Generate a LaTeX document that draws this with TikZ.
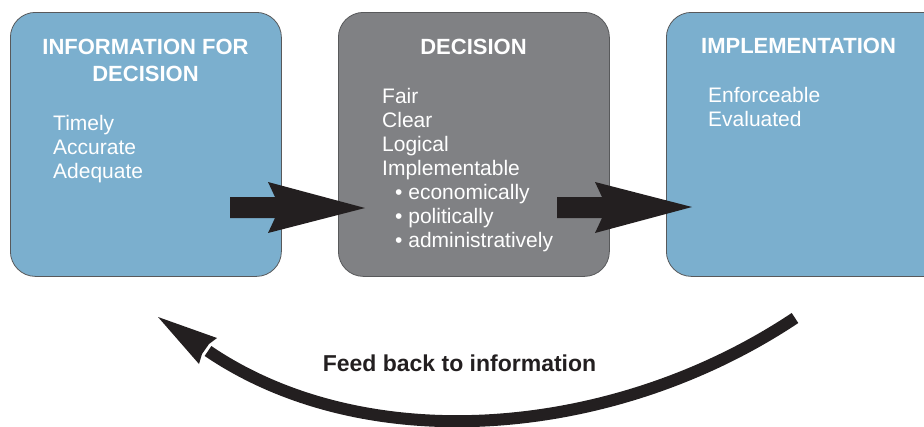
\documentclass[tikz,border=0pt]{standalone}
\usepackage{fontspec}
\setmainfont{Liberation Sans}
\definecolor{boxblue}{RGB}{123,175,206}
\definecolor{boxgray}{RGB}{128,129,132}
\definecolor{edgegray}{RGB}{88,89,91}
\definecolor{inkblack}{RGB}{35,31,32}
\begin{document}
\begin{tikzpicture}[x=1pt,y=-1pt,
  panel/.style={draw=edgegray,line width=0.8pt,rounded corners=25pt,minimum width=271pt,minimum height=264pt,anchor=north west,inner sep=0pt},
  title/.style={text=white,font=\fontsize{22}{27}\selectfont\bfseries,anchor=base,inner sep=0pt},
  item/.style={text=white,font=\fontsize{21}{24}\selectfont,anchor=base west,inner sep=0pt},
  blockarrow/.style={fill=inkblack,draw=none},
  fbline/.style={draw=inkblack,line width=12pt},
  fblabel/.style={text=inkblack,font=\fontsize{23}{27}\selectfont\bfseries,anchor=base,inner sep=0pt}
]
\useasboundingbox (0,0) rectangle (924,426);
% panels
\node[panel,fill=boxblue] (info) at (10,12) {};
\node[panel,fill=boxgray] (dec) at (338,12) {};
\node[panel,fill=boxblue,minimum width=290pt] (impl) at (666,12) {};
% titles
\node[title] (t1a) at (145.5,54) {INFORMATION FOR};
\node[title] (t1b) at (145.5,81) {DECISION};
\node[title] (t2) at (473.5,54) {DECISION};
\node[title] (t3) at (798.5,53) {IMPLEMENTATION};
% items
\foreach \t [count=\i] in {Timely,Accurate,Adequate}
  \node[item] (inf\i) at (53,106+24*\i) {\t};
\foreach \t [count=\i] in {Fair,Clear,Logical,Implementable}
  \node[item] (dc\i) at (382,79+24*\i) {\t};
\foreach \t [count=\i] in {economically,politically,administratively}
  \node[item] (db\i) at (395,175+24*\i) {\textbullet\ \t};
\foreach \t [count=\i] in {Enforceable,Evaluated}
  \node[item] (im\i) at (708,78+24*\i) {\t};
% block arrows
\fill[blockarrow] (230,197) -- (275,197) -- (268,182) -- (365,208) -- (268,233) -- (275,218) -- (230,218) -- cycle;
\fill[blockarrow] (557,197) -- (602,197) -- (595,182) -- (692,207) -- (595,233) -- (602,218) -- (557,218) -- cycle;
% feedback arrow
\coordinate (fbstart) at (795,318);
\coordinate (fbend) at (208,351);
\draw[fbline] (fbstart) .. controls (615,438) and (367,459) .. (fbend);
\fill[blockarrow] (158,317) -- (217,338) -- (209,344) -- (202,354) -- (199,364) -- cycle;
\node[fblabel] (fbtext) at (459.5,371) {Feed back to information};
\end{tikzpicture}
\end{document}
